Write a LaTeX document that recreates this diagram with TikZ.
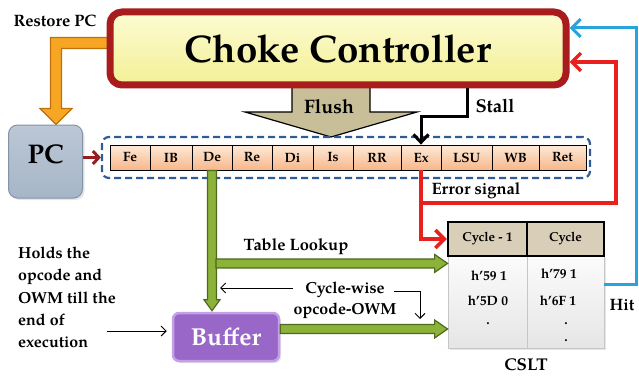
\documentclass[tikz,border=0pt]{standalone}
\usepackage{fontspec}
\setmainfont{texgyrepagella}[Extension=.otf, UprightFont=*-regular, BoldFont=*-bold, ItalicFont=*-italic, BoldItalicFont=*-bolditalic]
\usepackage{tikz}
\usetikzlibrary{arrows.meta, calc, shadows}
\pgfdeclarelayer{bg}
\pgfsetlayers{bg,main}

\definecolor{ChokeRed}{RGB}{168,28,30}
\definecolor{ChokeFill}{RGB}{243,240,150}
\definecolor{ChokeLight}{RGB}{252,251,210}
\definecolor{RestoreOrange}{RGB}{246,166,35}
\definecolor{RestoreEdge}{RGB}{190,112,10}
\definecolor{PCFill}{RGB}{166,181,199}
\definecolor{PCEdge}{RGB}{132,148,168}
\definecolor{PipeBlue}{RGB}{47,92,150}
\definecolor{StageTop}{RGB}{253,233,215}
\definecolor{StageBot}{RGB}{247,183,138}
\definecolor{FlushFill}{RGB}{200,191,153}
\definecolor{ErrRed}{RGB}{232,32,30}
\definecolor{HitBlue}{RGB}{41,163,221}
\definecolor{HeadFill}{RGB}{217,207,185}
\definecolor{LookGreen}{RGB}{140,178,58}
\definecolor{LookEdge}{RGB}{78,106,30}
\definecolor{BufFill}{RGB}{153,103,200}
\definecolor{BufEdge}{RGB}{196,160,232}
\definecolor{PCArrow}{RGB}{150,30,30}

% fat arrow pointing down: style, from, to, half shaft, half head, head length
\newcommand{\FatDown}[6][]{
	\filldraw[#1] ($(#2)+(-#4,0)$) -- ($(#3)+(-#4,-#6)$) -- ($(#3)+(-#5,-#6)$) -- (#3)
		-- ($(#3)+(#5,-#6)$) -- ($(#3)+(#4,-#6)$) -- ($(#2)+(#4,0)$) -- cycle;
}
% fat arrow pointing right
\newcommand{\FatRight}[6][]{
	\filldraw[#1] ($(#2)+(0,-#4)$) -- ($(#3)+(-#6,-#4)$) -- ($(#3)+(-#6,-#5)$) -- (#3)
		-- ($(#3)+(-#6,#5)$) -- ($(#3)+(-#6,#4)$) -- ($(#2)+(0,#4)$) -- cycle;
}

\begin{document}
\begin{tikzpicture}[x=1pt, y=-1pt, line join=miter,
	every node/.style={font=\bfseries},
	lbl/.style={font=\fontsize{16.5}{19}\selectfont\bfseries, inner sep=0pt},
	choke/.style={draw=ChokeRed, line width=7pt, rounded corners=12pt, top color=ChokeLight, bottom color=ChokeFill,
		minimum width=456pt, minimum height=73pt, font=\fontsize{38.5}{42}\selectfont\bfseries,
		drop shadow={opacity=0.2, shadow xshift=2pt, shadow yshift=-3pt}},
	pcbox/.style={draw=PCEdge, line width=1pt, rounded corners=9pt, top color=PCFill!75!white, bottom color=PCFill,
		minimum width=74pt, minimum height=73pt, text depth=14pt, font=\fontsize{27}{30}\selectfont\bfseries,
		drop shadow={opacity=0.2, shadow xshift=2pt, shadow yshift=-2pt}},
	pipebox/.style={draw=PipeBlue, line width=2.2pt, dash pattern=on 7pt off 4pt, rounded corners=7pt,
		minimum width=488pt, minimum height=41pt},
	stagebox/.style={draw, line width=0.8pt, top color=StageTop, bottom color=StageBot, minimum height=25pt,
		inner sep=0pt, font=\fontsize{13.5}{15}\selectfont\bfseries},
	headcell/.style={draw, line width=2.5pt, fill=HeadFill, minimum height=34pt, inner sep=0pt,
		font=\fontsize{13}{15}\selectfont\bfseries},
	bodycell/.style={draw=gray!45, line width=0.8pt, top color=gray!3, bottom color=gray!20, minimum height=92pt,
		inner sep=0pt, drop shadow={opacity=0.2, shadow xshift=2pt, shadow yshift=-2pt}},
	cellval/.style={anchor=base, inner sep=0pt, font=\fontsize{13.5}{15}\selectfont\bfseries},
	bufbox/.style={draw=BufEdge, line width=2.5pt, rounded corners=6pt, fill=BufFill, text=white,
		minimum width=106pt, minimum height=48pt, font=\fontsize{24.5}{27}\selectfont\bfseries,
		drop shadow={opacity=0.2, shadow xshift=2pt, shadow yshift=-2pt}},
	errline/.style={draw=ErrRed, line width=3.5pt, -{Straight Barb[length=9pt, width=18pt]}},
	hitline/.style={draw=HitBlue, line width=3pt, -{Straight Barb[length=9pt, width=18pt]}},
	stallline/.style={line width=3pt, -{Straight Barb[length=8pt, width=15pt]}},
	pcline/.style={draw=PCArrow, line width=3pt, -{Straight Barb[length=6pt, width=13pt]}},
	thinarrow/.style={line width=1pt, -{Straight Barb[length=5pt, width=10pt]}},
	greenfat/.style={draw=LookEdge, line width=1.2pt, fill=LookGreen},
	restore/.style={draw=RestoreEdge, line width=1.2pt, fill=RestoreOrange},
	flushfat/.style={draw=black, line width=1.2pt, fill=FlushFill}]

	\useasboundingbox (0,0) rectangle (639,377);

	\node[choke] (cc) at (338,48.5) {Choke Controller};
	\node[lbl] at (55,20.5) {Restore PC};
	\node[pcbox] (pc) at (45.5,161.5) {PC};

	% pipeline
	\node[pipebox] (pipe) at (346,157.5) {};
	\foreach \xa/\xb/\st in {110/150/Fe,150/192/IB,192/232/De,232/272/Re,272/313/Di,313/353/Is,353/401/RR,401/441/Ex,441/492/LSU,492/539/WB,539/586/Ret}{
		\pgfmathsetmacro{\stw}{\xb-\xa}
		\pgfmathsetmacro{\stc}{(\xa+\xb)/2}
		\node[stagebox, minimum width=\stw pt] (\st) at (\stc,157.5) {\st};
	}
	\draw[pcline] (pc.east |- pipe.west) -- (pipe.west);

	% restore and flush
	\coordinate (rs) at ($(cc.west)+(10,-5.5)$);
	\coordinate (rt) at ($(pc.north)+(10.5,0)$);
	\begin{pgfonlayer}{bg}
		\filldraw[restore] ($(rs)+(0,-5.5)$) -- ($(rt |- rs)+(-5.5,-5.5)$) -- ($(rt)+(-5.5,-16)$) -- ($(rt)+(-16,-16)$) -- (rt)
			-- ($(rt)+(16,-16)$) -- ($(rt)+(5.5,-16)$) -- ($(rt |- rs)+(5.5,5.5)$) -- ($(rs)+(0,5.5)$) -- cycle;
		\filldraw[flushfat] (292,80) -- (292,112) -- (245,112) -- (331,137) -- (417,112) -- (370,112) -- (370,80) -- cycle;
	\end{pgfonlayer}
	\node[font=\fontsize{19.5}{22}\selectfont\bfseries] at (329,107) {Flush};

	\draw[stallline] ($(cc.south)+(129,0)$) -- ++(0,28) -| (Ex.north);
	\node[font=\fontsize{18.5}{21}\selectfont\bfseries] at (495,106) {Stall};

	% CSLT
	\node[bodycell, minimum width=79pt] (b1) at (487.5,302) {};
	\node[bodycell, minimum width=77pt] (b2) at (565.5,302) {};
	\node[headcell, minimum width=79pt] (h1) at (487.5,239) {Cycle - 1};
	\node[headcell, minimum width=77pt] (h2) at (565.5,239) {Cycle};
	\node[cellval] at (489,280) {h'59 1};
	\node[cellval] at (488,305) {h'5D 0};
	\node[cellval] at (488,324) {.};
	\node[cellval] at (559,278) {h'79 1};
	\node[cellval] at (558,305) {h'6F 1};
	\node[cellval] at (566,324) {.};
	\node[cellval] at (566,341) {.};
	\node[lbl, font=\fontsize{17}{19}\selectfont\bfseries] at (526,365) {CSLT};

	% error and hit
	\coordinate (errR) at (616,203);
	\draw[errline] (Ex.south) |- (errR) |- ($(cc.east)+(0,13.5)$);
	\draw[errline] (Ex.south |- errR) |- (h1.west);
	\node[lbl] at (476,191) {Error signal};
	\draw[hitline] ($(b2.east)+(0,-18)$) -- ++(32,0) |- ($(cc.east)+(0,-20.5)$);
	\node[lbl] at (622,305) {Hit};

	% buffer and lookups
	\node[bufbox] (buf) at (226,337) {Buffer};
	\coordinate (gTop) at (De.south);
	\coordinate (gBot) at ($(De.south |- buf.north)+(0,-1)$);
	\coordinate (tlS) at ($(De.south)+(4,93)$);
	\coordinate (tlE) at (tlS -| b1.west);
	\coordinate (bS) at ($(buf.east)+(0,-8)$);
	\coordinate (bE) at (bS -| b1.west);
	\FatDown[greenfat]{gTop}{gBot}{4.5}{8}{11}
	\FatRight[greenfat]{tlS}{tlE}{4.5}{9}{13}
	\FatRight[greenfat]{bS}{bE}{4.5}{9}{13}
	\node[lbl] at (296,247) {Table Lookup};

	\node[lbl, align=center, anchor=north, font=\fontsize{16}{20.5}\selectfont\bfseries] (cw) at (345,282) {Cycle-wise\\opcode-OWM};
	\coordinate (cwL) at (293,288);
	\coordinate (cwR) at (394,291);
	\coordinate (cwD) at (420,319);
	\draw[thinarrow] (cwL) -- ($(cwL -| gTop)+(8,0)$);
	\draw[thinarrow] (cwR) -| (cwD);

	\node[lbl, align=left, anchor=north west, font=\fontsize{16}{22.2}\selectfont\bfseries] (holds) at (18,247)
		{Holds the\\opcode and\\OWM till the\\end of\\execution};
	\coordinate (holdsR) at (107,331);
	\draw[thinarrow, shorten >=5pt] (holdsR) -- (holdsR -| buf.west);

\end{tikzpicture}
\end{document}
